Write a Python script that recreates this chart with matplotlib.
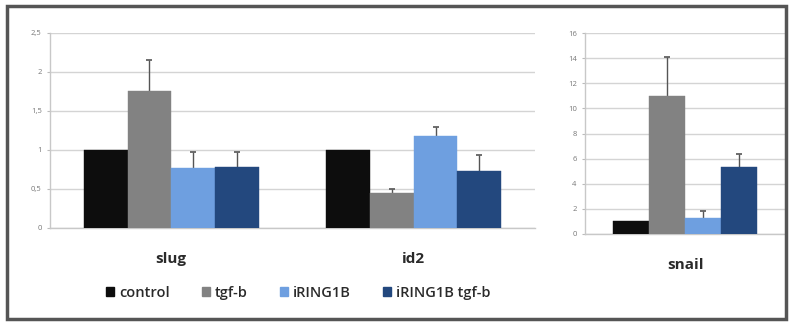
import matplotlib
matplotlib.use("Agg")
import matplotlib.pyplot as plt
from matplotlib.patches import Patch, Rectangle
import numpy as np

series = ["control", "tgf-b", "iRING1B", "iRING1B tgf-b"]
colors = ["#0d0d0d", "#828282", "#6e9fe0", "#23487e"]

left_genes = ["slug", "id2"]
left_values = [[1.0, 1.0], [1.76, 0.45], [0.77, 1.18], [0.78, 0.73]]
left_err = [[0.0, 0.0], [0.40, 0.05], [0.20, 0.12], [0.19, 0.20]]
left_ticks = [0, 0.5, 1, 1.5, 2, 2.5]
left_ticklabels = ["0", "0,5", "1", "1,5", "2", "2,5"]

right_genes = ["snail"]
right_values = [[1.0], [11.0], [1.3], [5.3]]
right_err = [[0.0], [3.1], [0.5], [1.1]]
right_ticks = [0, 2, 4, 6, 8, 10, 12, 14, 16]

plt.rcParams['font.family'] = ['Open Sans', 'DejaVu Sans']

fig = plt.figure(figsize=(7.89, 3.25), dpi=100)
ax1 = fig.add_axes([50/789, 1-228/325, 485/789, 195/325])
ax2 = fig.add_axes([585/789, 1-234/325, 200/789, 201/325])

bw = 0.18

def draw(ax, genes, values, errs, ticks, ticklabels, ymax):
    x = np.arange(len(genes))
    for i in range(len(series)):
        pos = x + (i - 1.5) * bw
        ax.bar(pos, values[i], width=bw, color=colors[i], edgecolor=colors[i], linewidth=0.3, zorder=3)
        e = np.array(errs[i])
        if np.any(e > 0):
            ax.errorbar(pos, values[i], yerr=e, fmt='none',
                        ecolor='#555555', elinewidth=1.0, capsize=2.5, capthick=1.2, zorder=2.5)
    ax.set_xlim(-0.5, len(genes) - 0.5)
    ax.set_ylim(0, ymax)
    ax.set_yticks(ticks)
    ax.set_yticklabels(ticklabels, fontsize=5.5, color='#777777')
    ax.set_xticks(x)
    ax.set_xticklabels(genes, fontsize=11, fontweight='bold', color='#2a2a2a')
    ax.tick_params(axis='x', length=0, pad=17)
    ax.tick_params(axis='y', length=2, color='#bbbbbb', pad=4)
    ax.grid(axis='y', color='#d4d4d4', linewidth=1.0, zorder=0)
    for s in ['top', 'right']:
        ax.spines[s].set_visible(False)
    for s in ['left', 'bottom']:
        ax.spines[s].set_color('#c8c8c8')
        ax.spines[s].set_linewidth(1.0)

draw(ax1, left_genes, left_values, left_err, left_ticks, left_ticklabels, 2.5)
draw(ax2, right_genes, right_values, right_err, right_ticks, [str(t) for t in right_ticks], 16)

handles = [Patch(facecolor=c, edgecolor=c) for c in colors]
fig.legend(handles, series, loc='center', bbox_to_anchor=(298/789, 1-293/325), ncol=4,
           frameon=False, prop={'size': 10.5, 'weight': 'semibold'}, handlelength=0.6,
           handleheight=0.6, handletextpad=0.3, columnspacing=2.2, labelcolor='#2a2a2a')

fig.patches.append(Rectangle((7/789, 1-319/325), 779/789, 313/325, transform=fig.transFigure,
                             fill=False, edgecolor='#555555', linewidth=2.5))

fig.savefig("out.png", dpi=100)
